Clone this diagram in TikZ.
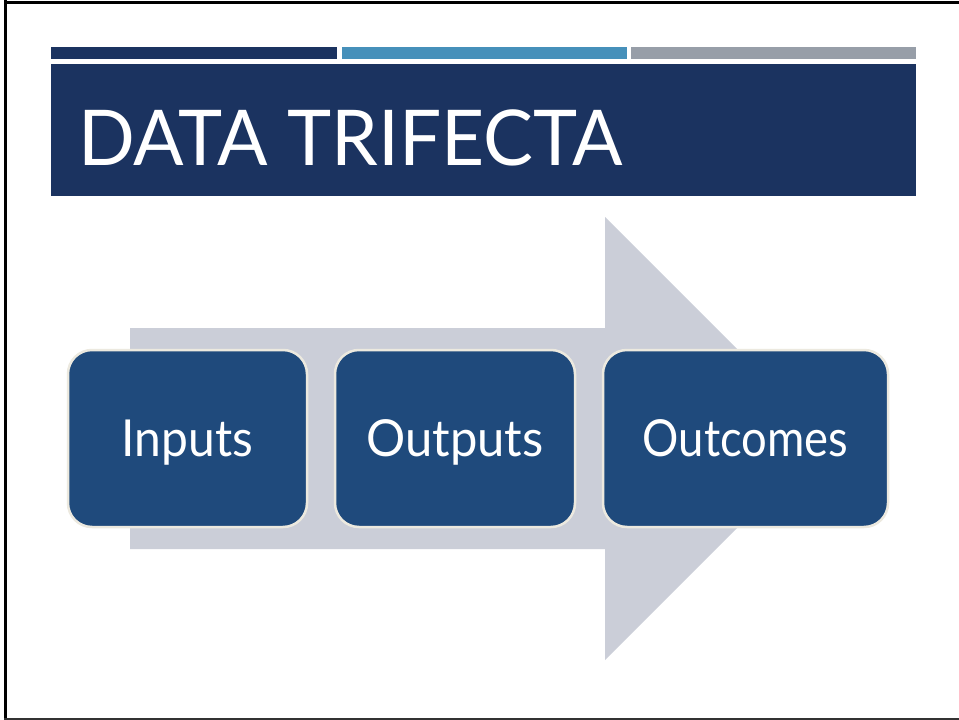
\documentclass[tikz,border=0pt]{standalone}
\usepackage{fontspec}
\setmainfont{Lato}
\definecolor{titleblue}{HTML}{1B3360}
\definecolor{barblue}{HTML}{4690BA}
\definecolor{bargray}{HTML}{979EA8}
\definecolor{boxblue}{HTML}{1F4A7C}
\definecolor{arrowgray}{HTML}{CBCED8}
\definecolor{boxedge}{HTML}{ECE9DF}
\tikzset{
  stagebox/.style={fill=boxblue, draw=boxedge, line width=2.5pt, rounded corners=24pt},
  stagetext/.style={text=white, font=\fontsize{51}{60}\selectfont, anchor=base, inner sep=0pt},
}
\begin{document}
\begin{tikzpicture}[x=1pt,y=-1pt]
\useasboundingbox (0,0) rectangle (959,720);
\fill[white] (0,0) rectangle (959,720);
% frame
\draw[black, line width=3pt] (4,2) -- (959,2);
\draw[black, line width=2.5pt] (5.5,0) -- (5.5,720);
\draw[black!80, line width=2pt] (4,719) -- (959,719);
% top bars
\fill[titleblue] (51,47) rectangle (337,59);
\fill[barblue] (342,47) rectangle (627,59);
\fill[bargray] (631,47) rectangle (916,59);
% title band
\fill[titleblue] (51,64) rectangle (916,196);
\node[text=white, font=\fontsize{77}{90}\selectfont, anchor=base west, inner sep=0pt] (title) at (78,165) {\scalebox{0.97}[1]{DATA TRIFECTA}};
% big arrow
\fill[arrowgray] (130,328) -- (605,328) -- (605,217) -- (826.5,438.5) -- (605,660) -- (605,549) -- (130,549) -- cycle;
% boxes
\draw[stagebox] (68,350) rectangle (307,527);
\draw[stagebox] (335,350) rectangle (575,527);
\draw[stagebox] (603,350) rectangle (888,527);
\node[stagetext] (inputs) at (187.5,456) {\scalebox{0.94}[1]{Inputs}};
\node[stagetext] (outputs) at (455,456) {\scalebox{0.96}[1]{Outputs}};
\node[stagetext] (outcomes) at (745.5,456) {\scalebox{0.89}[1]{Outcomes}};
\end{tikzpicture}
\end{document}
